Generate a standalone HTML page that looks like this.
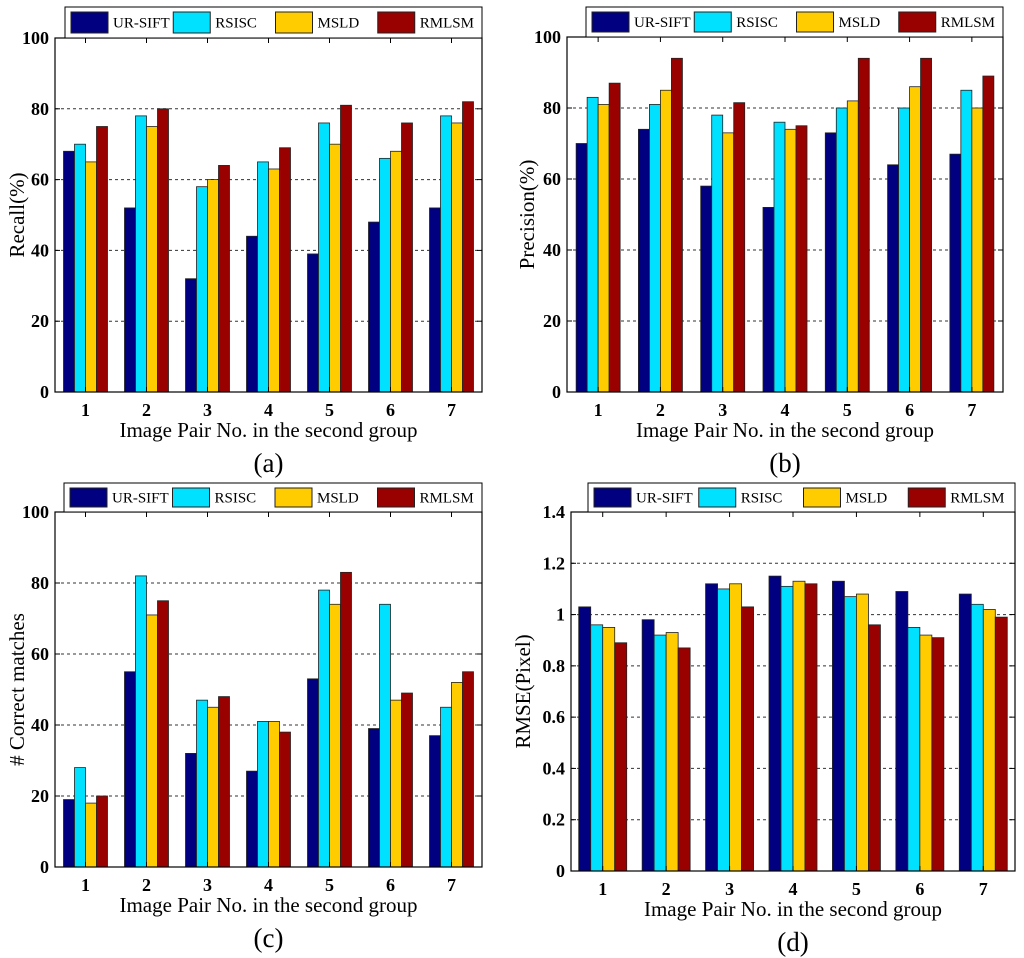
<!DOCTYPE html>
<html><head><meta charset="utf-8"><style>
html,body{margin:0;padding:0;background:#fff}
svg{display:block}
text{font-family:"Liberation Serif",serif}
</style></head><body>
<svg id="c" width="1024" height="958" viewBox="0 0 1024 958" xmlns="http://www.w3.org/2000/svg"></svg>
<script>
const categories=["1","2","3","4","5","6","7"];
const seriesNames=["UR-SIFT","RSISC","MSLD","RMLSM"];
const recallUR=[68,52,32,44,39,48,52];
const recallRS=[70,78,58,65,76,66,78];
const recallMS=[65,75,60,63,70,68,76];
const recallRM=[75,80,64,69,81,76,82];
const precUR=[70,74,58,52,73,64,67];
const precRS=[83,81,78,76,80,80,85];
const precMS=[81,85,73,74,82,86,80];
const precRM=[87,94,81.5,75,94,94,89];
const corrUR=[19,55,32,27,53,39,37];
const corrRS=[28,82,47,41,78,74,45];
const corrMS=[18,71,45,41,74,47,52];
const corrRM=[20,75,48,38,83,49,55];
const rmseUR=[1.03,0.98,1.12,1.15,1.13,1.09,1.08];
const rmseRS=[0.96,0.92,1.10,1.11,1.07,0.95,1.04];
const rmseMS=[0.95,0.93,1.12,1.13,1.08,0.92,1.02];
const rmseRM=[0.89,0.87,1.03,1.12,0.96,0.91,0.99];
const ticks100=[0,20,40,60,80,100];
const ticksRmse=[0,0.2,0.4,0.6,0.8,1,1.2,1.4];
const colors=["#000080","#00e0ff","#ffcc00","#990000"];
const NS="http://www.w3.org/2000/svg";
const svg=document.getElementById('c');
function el(tag,attrs,parent,txt){const e=document.createElementNS(NS,tag);for(const k in attrs)e.setAttribute(k,attrs[k]);if(txt!==undefined)e.textContent=txt;(parent||svg).appendChild(e);return e;}
function panel(o){
  const g=el('g',{});
  
  
  const y=v=>o.b-(v-o.ymin)/(o.ymax-o.ymin)*(o.b-o.t);
  const step=(o.r-o.l)/categories.length;
  const x=i=>o.l+step*(i+0.5);
  o.ticks.forEach((tv,i)=>{
    const yy=y(tv);
    if(i>0&&i<o.ticks.length-1){const gl=el('line',{x1:o.l,x2:o.r,y1:yy,y2:yy,stroke:'#333','stroke-width':1,'stroke-dasharray':'3,3'},g);}
    el('line',{x1:o.l,x2:o.l+5,y1:yy,y2:yy,stroke:'#000'},g);
    el('line',{x1:o.r,x2:o.r-5,y1:yy,y2:yy,stroke:'#000'},g);
    const t=el('text',{x:o.l-6,y:yy+6,'text-anchor':'end','font-size':18,'font-weight':'bold'},g,String(tv));
    
  });
  o.series.forEach((s,si)=>{
    s.forEach((v,i)=>{
      const bx=x(i)-2*o.bw+si*o.bw;
      const r=el('rect',{x:bx,y:y(v),width:o.bw,height:o.b-y(v),fill:colors[si],stroke:'#222','stroke-width':0.8},g);
      
      
    });
  });
  categories.forEach((c,i)=>{
    el('line',{x1:x(i),x2:x(i),y1:o.b,y2:o.b-5,stroke:'#000'},g);
    el('line',{x1:x(i),x2:x(i),y1:o.t,y2:o.t+5,stroke:'#000'},g);
    const t=el('text',{x:x(i),y:o.b+24,'text-anchor':'middle','font-size':18,'font-weight':'bold'},g,c);
    
  });
  const ax=el('rect',{x:o.l,y:o.t,width:o.r-o.l,height:o.b-o.t,fill:'none',stroke:'#000','stroke-width':1.2},g);
  
  const xt=el('text',{x:(o.l+o.r)/2,y:o.b+45,'text-anchor':'middle','font-size':21},g,'Image Pair No. in the second group');
  
  const cy=(o.t+o.b)/2;
  const yt=el('text',{x:o.ytx,y:cy,'text-anchor':'middle','font-size':21,transform:`rotate(-90 ${o.ytx} ${cy})`},g,o.ytitle);
  
  const lab=el('text',{x:(o.l+o.r)/2,y:o.b+80,'text-anchor':'middle','font-size':27},g,'('+o.letter+')');
  
  const lg=el('g',{},g);
  
  el('rect',{x:o.lx,y:o.ly,width:o.r-o.lx,height:o.t-o.ly,fill:'#fff',stroke:'#000'},lg);
  const lw=(o.r-o.lx-8)/4;
  seriesNames.forEach((n,i)=>{
    const ex=o.lx+6+i*lw;
    const e=el('g',{},lg);
    
    el('rect',{x:ex,y:o.ly+5,width:37,height:(o.t-o.ly)-10,fill:colors[i],stroke:'#222'},e);
    el('text',{x:ex+42,y:o.ly+(o.t-o.ly)/2+5,'font-size':15},e,n);
  });
}
panel({name:'chart-recall',l:55,r:482,t:38,b:392,ymin:0,ymax:100,ticks:ticks100,bw:11,series:[recallUR,recallRS,recallMS,recallRM],ytitle:'Recall(%)',ytx:24,letter:'a',lx:65,ly:7});
panel({name:'chart-precision',l:567,r:1003,t:37,b:392,ymin:0,ymax:100,ticks:ticks100,bw:11,series:[precUR,precRS,precMS,precRM],ytitle:'Precision(%)',ytx:534,letter:'b',lx:586,ly:7});
panel({name:'chart-correct-matches',l:55,r:482,t:512,b:867,ymin:0,ymax:100,ticks:ticks100,bw:11,series:[corrUR,corrRS,corrMS,corrRM],ytitle:'# Correct matches',ytx:24,letter:'c',lx:64,ly:483});
panel({name:'chart-rmse',l:571,r:1015,t:512,b:871,ymin:0,ymax:1.4,ticks:ticksRmse,bw:12,series:[rmseUR,rmseRS,rmseMS,rmseRM],ytitle:'RMSE(Pixel)',ytx:530,letter:'d',lx:588,ly:483});
</script>
</body></html>
